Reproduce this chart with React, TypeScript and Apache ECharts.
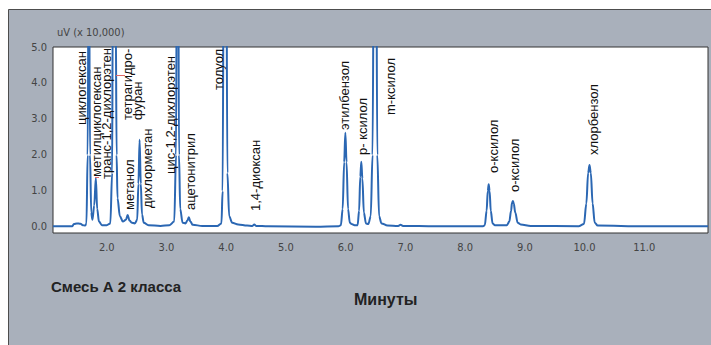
import React, { useEffect, useRef } from "react";
import * as echarts from "echarts";

// Chromatogram trace: [minutes, uV x 10,000]
const trace: [number, number][] = [
  [1.1, 0.02], [1.3, 0.02], [1.42, 0.02], [1.45, 0.08], [1.5, 0.1], [1.56, 0.09], [1.6, 0.05], [1.64, 0.04],
  [1.66, 0.1], [1.68, 2.0], [1.7, 9], [1.72, 2.0], [1.74, 0.4], [1.76, 0.2],
  [1.79, 0.6], [1.817, 1.36], [1.84, 0.5], [1.87, 0.15], [1.92, 0.05],
  [2.0, 0.05], [2.06, 0.1], [2.09, 1.5], [2.1, 6], [2.115, 9], [2.135, 9], [2.15, 6], [2.165, 2], [2.18, 0.8],
  [2.22, 0.3], [2.27, 0.15], [2.32, 0.2], [2.35, 0.33], [2.38, 0.18], [2.42, 0.12], [2.47, 0.1],
  [2.51, 0.2], [2.53, 1.2], [2.55, 2.42], [2.57, 1.2], [2.59, 0.35], [2.62, 0.12], [2.7, 0.05],
  [2.9, 0.03], [3.05, 0.05], [3.13, 0.15], [3.16, 2], [3.175, 9], [3.195, 9], [3.21, 2], [3.23, 0.5],
  [3.27, 0.12], [3.32, 0.1], [3.35, 0.18], [3.375, 0.27], [3.4, 0.15], [3.44, 0.06], [3.6, 0.03],
  [3.85, 0.03], [3.92, 0.1], [3.94, 1], [3.96, 9], [4.0, 9], [4.02, 1.5], [4.05, 0.3], [4.1, 0.12],
  [4.2, 0.07], [4.35, 0.04], [4.44, 0.03], [4.47, 0.07], [4.5, 0.03], [4.7, 0.02], [5.5, 0.01],
  [5.88, 0.02], [5.92, 0.05], [5.95, 0.5], [5.975, 1.8], [5.995, 2.62], [6.015, 1.8], [6.04, 0.5],
  [6.07, 0.12], [6.1, 0.08], [6.15, 0.05], [6.2, 0.05], [6.225, 0.45], [6.245, 1.4], [6.262, 1.81],
  [6.28, 1.35], [6.305, 0.4], [6.34, 0.1], [6.38, 0.08], [6.42, 0.3], [6.45, 2], [6.475, 9], [6.51, 9],
  [6.53, 2], [6.56, 0.3], [6.6, 0.1], [6.7, 0.04], [6.88, 0.03], [6.92, 0.06], [6.96, 0.03],
  [7.5, 0.02], [8.3, 0.02], [8.33, 0.05], [8.36, 0.45], [8.38, 1.0], [8.395, 1.19], [8.41, 1.0],
  [8.43, 0.45], [8.46, 0.1], [8.5, 0.05], [8.7, 0.05], [8.74, 0.15], [8.77, 0.45], [8.785, 0.67],
  [8.8, 0.72], [8.815, 0.65], [8.84, 0.4], [8.88, 0.12], [8.93, 0.07], [9.1, 0.03], [9.9, 0.02],
  [9.99, 0.08], [10.03, 0.65], [10.06, 1.5], [10.083, 1.72], [10.105, 1.5], [10.135, 0.65],
  [10.17, 0.12], [10.22, 0.04], [11.0, 0.02], [12.067, 0.02],
];

const xTickLabels = ["2.0", "3.0", "4.0", "5.0", "6.0", "7.0", "8.0", "9.0", "10.0", "11.0"];
const yTickLabels = ["0.0", "1.0", "2.0", "3.0", "4.0", "5.0"];

const peakNames = [
  "циклогексан",
  "метилциклогексан",
  "транс-1,2-дихлорэтен",
  "тетрагидро-\nфуран",
  "метанол",
  "дихлорметан",
  "цис-1,2-дихлорэтен",
  "ацетонитрил",
  "толуол",
  "1,4-диоксан",
  "этилбензол",
  "р- ксилол",
  "m-ксилол",
  "о-ксилол",
  "о-ксилол",
  "хлорбензол",
];

// label anchor layout (pixel x centre, pixel bottom)
const labelLayout: [number, number][] = [
  [81.5, 125], [96.5, 177], [106.5, 179], [132.5, 120], [129, 210], [147, 208], [170.5, 174],
  [190, 210], [218, 90], [255.5, 211], [344, 130], [362, 155], [390, 115], [493, 173], [514, 192],
  [593, 155],
];

const tickFont = "'Liberation Sans Narrow', 'DejaVu Sans Condensed', 'Liberation Sans', sans-serif";
const textFont = "'Liberation Sans', Arial, sans-serif";

export default function App() {
  const ref = useRef<HTMLDivElement>(null);
  useEffect(() => {
    if (!ref.current) return;
    const chart = echarts.init(ref.current, undefined, { renderer: "svg" });
    const fmt = (labels: string[]) => (v: number) => {
      const s = v.toFixed(1);
      return Math.abs(v - Math.round(v)) < 1e-6 && labels.includes(s) ? s : "";
    };
    const labelGraphics = peakNames.map((name, i) => ({
      type: "text",
      x: labelLayout[i][0],
      y: labelLayout[i][1],
      rotation: Math.PI / 2,
      z: 10,
      style: {
        text: name,
        fill: "#111",
        font: `13px ${textFont}`,
        align: "left",
        verticalAlign: "middle",
        lineHeight: 10,
      },
    }));
    chart.setOption({
      animation: false,
      backgroundColor: "#ffffff",
      grid: {
        left: 53,
        top: 47,
        width: 660,
        height: 186,
        show: true,
        backgroundColor: "#ffffff",
        borderColor: "#333",
        borderWidth: 1,
        z: 1,
      },
      xAxis: {
        type: "value",
        min: 1.1,
        max: 12.067,
        splitNumber: 10,
        axisLine: { show: false },
        axisTick: { show: false },
        splitLine: { show: false },
        axisLabel: {
          formatter: fmt(xTickLabels),
          color: "#444",
          fontFamily: tickFont,
          fontSize: 11,
          margin: 9,
        },
      },
      yAxis: {
        type: "value",
        min: -0.167,
        max: 5,
        splitNumber: 5,
        axisLine: { show: false },
        axisTick: { show: false },
        splitLine: { show: false },
        axisLabel: {
          formatter: fmt(yTickLabels),
          color: "#444",
          fontFamily: tickFont,
          fontSize: 11,
          margin: 6,
        },
      },
      graphic: [
        {
          type: "rect",
          z: -10,
          silent: true,
          shape: { x: 8.5, y: 9.5, width: 720, height: 360 },
          style: { fill: "#a9b0bb", stroke: "#4d4d4d", lineWidth: 1 },
        },
        {
          type: "text",
          left: 57,
          top: 27,
          style: { text: "uV (x 10,000)", fill: "#444", font: `11px ${tickFont}` },
        },
        {
          type: "text",
          left: 51,
          top: 279,
          style: { text: "Смесь А 2 класса", fill: "#222", font: `bold 15px ${textFont}` },
        },
        {
          type: "text",
          left: 354,
          top: 291,
          style: { text: "Минуты", fill: "#222", font: `bold 16px ${textFont}` },
        },
        {
          type: "line",
          z: 10,
          shape: { x1: 95, y1: 177.5, x2: 99, y2: 177.5 },
          style: { stroke: "#e06868", lineWidth: 1 },
        },
        {
          type: "line",
          z: 10,
          shape: { x1: 116, y1: 75.5, x2: 125, y2: 75.5 },
          style: { stroke: "#e06868", lineWidth: 1 },
        },
        ...labelGraphics,
      ],
      series: [
        {
          type: "line",
          data: trace,
          showSymbol: false,
          smooth: 0.35,
          smoothMonotone: "x",
          clip: true,
          lineStyle: { color: "#2b67b3", width: 2 },
          z: 5,
        },
      ],
    });
    return () => chart.dispose();
  }, []);
  return (
    <div
      ref={ref}
      style={{ position: "fixed", left: 0, top: 0, width: 711, height: 345 }}
    />
  );
}
